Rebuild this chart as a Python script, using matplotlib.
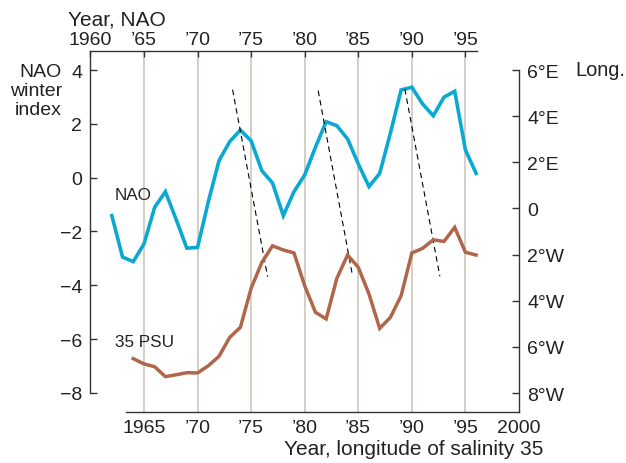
#!/usr/bin/env python3
"""NAO winter index vs longitude of the 35 PSU salinity front."""

import numpy as np
import matplotlib
matplotlib.use('Agg')
import matplotlib.pyplot as plt

plt.rcParams['font.family'] = ['Liberation Sans', 'DejaVu Sans']

# NAO winter index (left axis)
nao_years = list(range(1962, 1997))
nao_index = [-1.41, -2.95, -3.12, -2.46, -1.10, -0.52, -1.55, -2.62, -2.59, -0.90,
             0.63, 1.34, 1.77, 1.37, 0.26, -0.20, -1.41, -0.52, 0.10, 1.13,
             2.08, 1.93, 1.44, 0.51, -0.33, 0.16, 1.66, 3.26, 3.36, 2.74,
             2.30, 2.99, 3.21, 1.03, 0.16]

# longitude of salinity 35 (right axis, degrees, east positive)
sal_years = list(range(1964, 1997))
sal_long = [-6.51, -6.74, -6.86, -7.29, -7.21, -7.12, -7.13, -6.82, -6.41, -5.59,
            -5.15, -3.46, -2.34, -1.62, -1.80, -1.93, -3.35, -4.50, -4.79, -3.03,
            -2.02, -2.55, -3.71, -5.20, -4.72, -3.78, -1.93, -1.73, -1.36, -1.43,
            -0.82, -1.90, -2.02]

# lag lines (start/end year, start/end NAO value)
lag_x = [(1973.27, 1976.54), (1981.26, 1984.47), (1989.35, 1992.61)]
lag_y = [(3.27, -3.68), (3.23, -3.66), (3.29, -3.66)]

grid_years = [1965, 1970, 1975, 1980, 1985, 1990, 1995]
top_ticks = [1960, 1965, 1970, 1975, 1980, 1985, 1990, 1995]
top_labels = ['1960', '\u201965', '\u201970', '\u201975', '\u201980', '\u201985', '\u201990', '\u201995']
bot_ticks = [1965, 1970, 1975, 1980, 1985, 1990, 1995, 2000]
bot_labels = ['1965', '\u201970', '\u201975', '\u201980', '\u201985', '\u201990', '\u201995', '2000']
left_ticks = [-8, -6, -4, -2, 0, 2, 4]
right_ticks = [-8, -6, -4, -2, 0, 2, 4, 6]
right_labels = ['8\u00b0W', '6\u00b0W', '4\u00b0W', '2\u00b0W', '0', '2\u00b0E', '4\u00b0E', '6\u00b0E']

NAO_C = '#0ba8d2'
SAL_C = '#b0664a'
GRID_C = '#d6cec3'
AX_C = '#333333'
FS = 14

W, H = 626, 464
fig = plt.figure(figsize=(W / 100, H / 100), dpi=100)
ax = fig.add_axes([90.4 / W, 1 - 412.7 / H, (519 - 90.4) / W, (412.7 - 52) / H])
ax.set_xlim(1960, 2000)
ax.set_ylim(-8.695, 4.706)

for y in grid_years:
    ax.axvline(y, color=GRID_C, lw=1.4, zorder=0)

ax.plot(nao_years, nao_index, color=NAO_C, lw=2.6, solid_joinstyle='miter', zorder=3)
for xs, ys in zip(lag_x, lag_y):
    ax.plot(xs, ys, color='black', lw=0.8, dashes=(5, 3.5), zorder=4)

for s in ['top', 'right']:
    ax.spines[s].set_visible(False)
ax.spines['left'].set_bounds(-8, 4.706)
ax.spines['bottom'].set_bounds(1963.32, 2000)
for s in ['left', 'bottom']:
    ax.spines[s].set_color(AX_C)
    ax.spines[s].set_linewidth(1.0)

ax.set_yticks(left_ticks)
ax.set_xticks(bot_ticks)
ax.set_xticklabels(bot_labels)
ax.tick_params(axis='y', direction='in', length=5, width=1.0, color=AX_C,
               labelsize=FS, pad=6, labelcolor='#222222')
ax.tick_params(axis='x', direction='in', length=0, labelsize=FS, pad=5,
               labelcolor='#222222')

# right axis: longitude
axr = ax.twinx()
axr.set_ylim(-8.81, 6.824)
axr.plot(sal_years, sal_long, color=SAL_C, lw=2.5, solid_joinstyle='miter', zorder=3)
for s in ['top', 'left', 'bottom']:
    axr.spines[s].set_visible(False)
axr.spines['right'].set_bounds(-8.81, 6)
axr.spines['right'].set_color(AX_C)
axr.spines['right'].set_linewidth(1.0)
axr.set_yticks(right_ticks)
axr.set_yticklabels(right_labels)
axr.tick_params(axis='y', direction='in', length=5, width=1.0, color=AX_C,
                labelsize=FS, pad=6, labelcolor='#222222')

# top axis: year for NAO
axt = ax.twiny()
axt.set_xlim(1960, 2000)
for s in ['bottom', 'left', 'right']:
    axt.spines[s].set_visible(False)
axt.spines['top'].set_bounds(1960, 1996.1)
axt.spines['top'].set_color(AX_C)
axt.spines['top'].set_linewidth(1.0)
axt.set_xticks(top_ticks)
axt.set_xticklabels(top_labels)
axt.tick_params(axis='x', direction='in', length=4.5, width=1.0, color=AX_C,
                labelsize=FS, pad=2, labelcolor='#222222')

# labels (pixel positions converted to figure fraction)
def ftext(px, py, s, **kw):
    fig.text(px / W, 1 - py / H, s, fontsize=kw.pop('fontsize', FS), color='#222222', **kw)

ftext(68, 25, 'Year, NAO', ha='left', va='baseline', fontsize=15)
ftext(62, 76.7, 'NAO', ha='right', va='baseline')
ftext(62, 96.3, 'winter', ha='right', va='baseline')
ftext(62, 115, 'index', ha='right', va='baseline')
ftext(575, 71, 'Long.', ha='left', va='center', fontsize=14.4)
ftext(543, 455, 'Year, longitude of salinity 35', ha='right', va='baseline', fontsize=15)
ftext(115, 196, 'NAO', ha='left', va='center', fontsize=12.3)
ftext(115, 343, '35 PSU', ha='left', va='center', fontsize=12.3)

fig.savefig('out.png', dpi=100)
plt.close(fig)
